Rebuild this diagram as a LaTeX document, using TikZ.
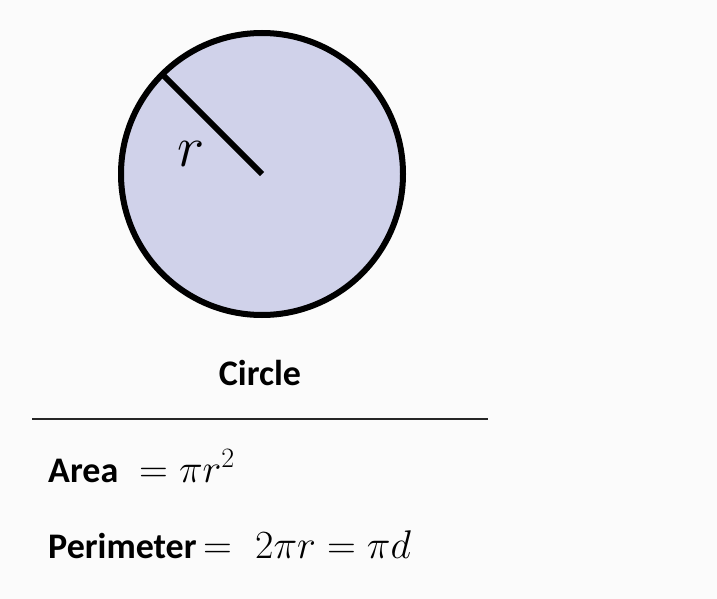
\RequirePackage{fix-cm}
\documentclass[tikz,border=0pt]{standalone}
\usepackage{fontspec}
\setmainfont{Carlito}
\definecolor{bgcol}{RGB}{251,251,251}
\definecolor{disccol}{RGB}{208,210,234}
\begin{document}
\begin{tikzpicture}[x=1pt,y=-1pt,
  lbl/.style={inner sep=0pt,anchor=base west,font=\fontsize{36}{40}\selectfont\bfseries},
  mth/.style={inner sep=0pt,anchor=base west,font=\fontsize{40}{44}\selectfont}]
\fill[bgcol] (0,0) rectangle (717,599);
\useasboundingbox (0,0) rectangle (717,599);
\coordinate (c) at (262,174);
\fill[disccol] (c) circle[radius=141];
\draw[line width=6pt] (c) circle[radius=141];
\coordinate (rim) at (162.3,74.3);
\draw[line width=6pt] (c) -- (rim);
\node[inner sep=0pt,anchor=base,font=\fontsize{58}{60}\selectfont] (rl) at (191,166) {$r$};
\node[inner sep=0pt,anchor=base,font=\fontsize{36}{40}\selectfont\bfseries] (title) at (260,385) {Circle};
\coordinate (la) at (32,419);
\coordinate (lb) at (488,419);
\draw[line width=2.5pt,black!85] (la) -- (lb);
\node[lbl] (area) at (48,482) {Area};
\node[mth] (areaf) at (139,482) {$=\pi r^2$};
\node[lbl] (per) at (48,558) {Perimeter};
\node[mth] (pereq) at (203,558) {$=$};
\node[mth] (perf) at (255,558) {$2\pi r=\pi d$};
\end{tikzpicture}
\end{document}
